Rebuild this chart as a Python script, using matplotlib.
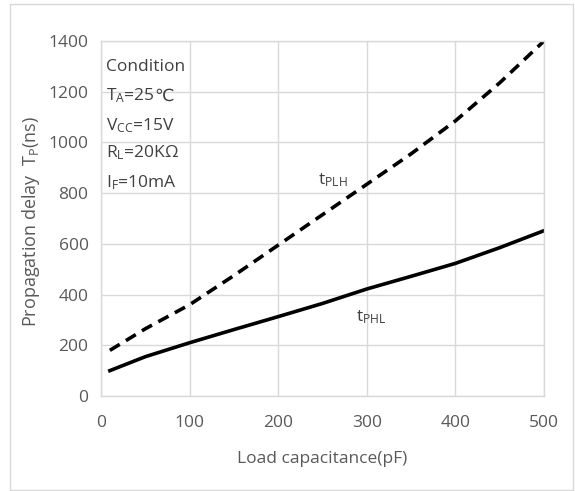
import matplotlib
matplotlib.use("Agg")
import matplotlib.pyplot as plt
from matplotlib.patches import Rectangle

plt.rcParams['font.family'] = ['Open Sans', 'DejaVu Sans']
plt.rcParams['mathtext.fontset'] = 'custom'
plt.rcParams['mathtext.rm'] = 'Open Sans'
plt.rcParams['mathtext.it'] = 'Open Sans:italic'

# Data
cap = [10, 50, 100, 150, 200, 250, 300, 350, 400, 450, 500]
t_plh = [180, 265, 360, 475, 595, 715, 835, 955, 1085, 1235, 1400]
t_phl = [100, 155, 210, 262, 313, 365, 422, 472, 523, 585, 652]

x_ticks = [0, 100, 200, 300, 400, 500]
y_ticks = [0, 200, 400, 600, 800, 1000, 1200, 1400]

conditions = ["Condition", r"T$_\mathregular{A}$=25", r"V$_\mathregular{CC}$=15V",
              r"R$_\mathregular{L}$=20KΩ", r"I$_\mathregular{F}$=10mA"]
cond_suffix = ["", "℃", "", "", ""]
cond_y = [1305, 1187, 1069, 962, 844]

W, H = 575, 491
fig = plt.figure(figsize=(W / 100, H / 100), dpi=100)
ax = fig.add_axes([101 / W, 1 - 396 / H, (544 - 101) / W, (396 - 41) / H])

txt = '#595959'
dark = '#404040'
grid = '#d9d9d9'

ax.plot(cap, t_plh, color='black', lw=2.6, ls=(0, (3.2, 2.0)))
ax.plot(cap, t_phl, color='black', lw=2.6)

ax.set_xlim(0, 500)
ax.set_ylim(0, 1400)
ax.set_xticks(x_ticks)
ax.set_yticks(y_ticks)
ax.grid(True, color=grid, lw=1.0)
ax.set_axisbelow(True)
for s in ax.spines.values():
    s.set_color(grid)
    s.set_linewidth(1.0)
ax.tick_params(length=0, labelsize=12.5, labelcolor=txt, pad=9)
ax.tick_params(axis='x', pad=14)

ax.set_xlabel("Load capacitance(pF)", fontsize=12.5, color=txt, labelpad=14)
fig.text(31 / W, 1 - 221 / H, r"Propagation delay  T$_\mathregular{P}$(ns)",
         rotation=90, ha='center', va='center', fontsize=13, color=txt)

for s, suf, y in zip(conditions, cond_suffix, cond_y):
    t = ax.text(6, y - 22, s, fontsize=12.5, color=dark, va='baseline', ha='left')
    if suf:
        ax.annotate(suf, xy=(1, y - 22), xycoords=(t, 'data'),
                    xytext=(-0.5, 0), textcoords='offset points', fontsize=12.5,
                    color=dark, va='baseline', ha='left', family='DejaVu Sans')

ax.text(245, 850, r"t$_\mathregular{PLH}$", fontsize=12.5, color=dark, va='center')
ax.text(288, 312, r"t$_\mathregular{PHL}$", fontsize=12.5, color=dark, va='center')

fig.patches.append(Rectangle((10 / W, 1 - 490 / H), (573 - 10) / W, (490 - 4) / H,
                             transform=fig.transFigure, fill=False,
                             edgecolor=grid, lw=1.0))

fig.savefig("out.png", dpi=100)
